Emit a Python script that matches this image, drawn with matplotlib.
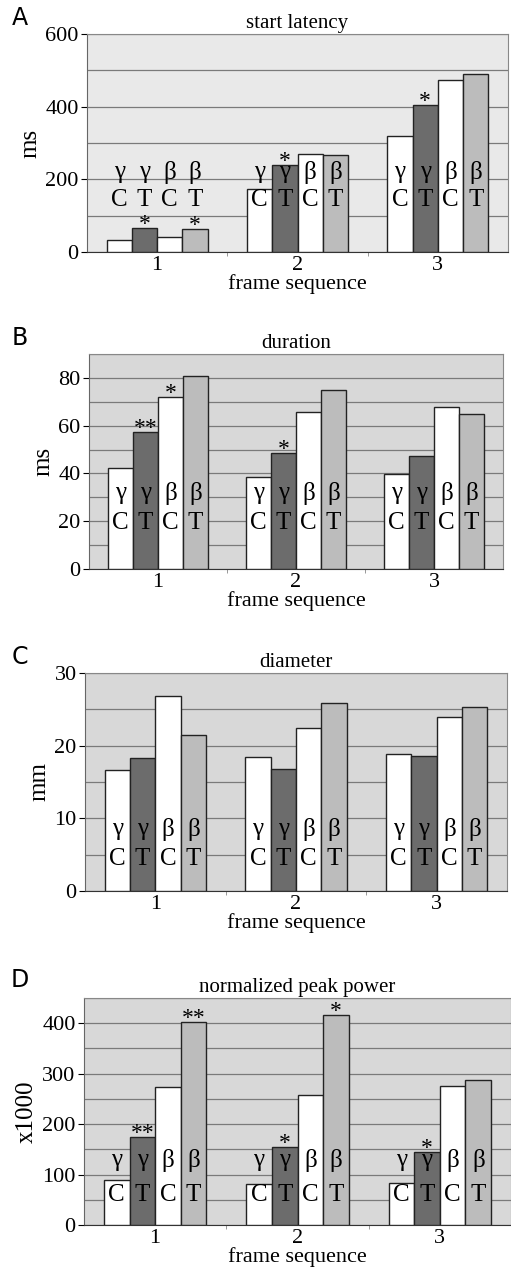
import numpy as np
import matplotlib
matplotlib.use("Agg")
import matplotlib.pyplot as plt

plt.rcParams['font.family'] = ['Liberation Serif', 'DejaVu Serif']

# data, order per group: gamma C, gamma T, beta C, beta T
groups = ['1', '2', '3']
bands = ['γ', 'γ', 'β', 'β']
conds = ['C', 'T', 'C', 'T']

latency = [[32, 65, 40, 64], [174, 240, 271, 268], [318, 405, 473, 489]]
duration = [[42.1, 57.5, 71.9, 80.7], [38.7, 48.4, 65.9, 74.8], [39.7, 47.1, 67.8, 64.9]]
diameter = [[16.6, 18.3, 26.8, 21.4], [18.5, 16.8, 22.4, 25.9], [18.9, 18.6, 24.0, 25.3]]
power = [[89, 174, 274, 402], [81, 154, 257, 417], [84, 145, 276, 288]]

stars_lat = [['', '*', '', '*'], ['', '*', '', ''], ['', '*', '', '']]
stars_dur = [['', '**', '*', ''], ['', '*', '', ''], ['', '', '', '']]
stars_dia = [['', '', '', ''], ['', '', '', ''], ['', '', '', '']]
stars_pow = [['', '**', '', '**'], ['', '*', '', '*'], ['', '*', '', '']]

panels = [
    ('A', 'start latency', 'ms', latency, stars_lat, 600, 200, 100, (220, 142), '#e9e9e9'),
    ('B', 'duration', 'ms', duration, stars_dur, 90, 20, 10, (31.7, 19.2), '#d8d8d8'),
    ('C', 'diameter', 'mm', diameter, stars_dia, 30, 10, 5, (8.5, 4.4), '#d8d8d8'),
    ('D', 'normalized peak power', 'x1000', power, stars_pow, 450, 100, 50, (128, 60), '#d8d8d8'),
]

# axes boxes in pixels: left, right, top, bottom
boxes = [(87, 508, 34, 252), (89, 503, 354, 569), (85, 507, 673, 891), (84, 511, 998, 1225)]
letter_y = [18, 338, 657, 980]

W, H = 511, 1273
fig = plt.figure(figsize=(W / 100, H / 100), dpi=100)

colors = ['white', '#6c6c6c', 'white', '#bcbcbc']
bw = 0.18
offs = (np.arange(4) - 1.5) * bw

for (letter, title, ylab, vals, stars, ymax, major, minor, laby, bg), (l, r, t, b), ly in zip(panels, boxes, letter_y):
    ax = fig.add_axes([l / W, 1 - b / H, (r - l) / W, (b - t) / H])
    ax.set_facecolor(bg)
    vals = np.array(vals)
    x = np.arange(len(groups))
    for i in range(4):
        ax.bar(x + offs[i], vals[:, i], width=bw, color=colors[i], edgecolor='#222222',
               linewidth=1.0, zorder=3)
        for g in range(len(groups)):
            ax.text(x[g] + offs[i], laby[0], bands[i], ha='center', va='center',
                    fontsize=18, zorder=4)
            ax.text(x[g] + offs[i], laby[1], conds[i], ha='center', va='center',
                    fontsize=18, zorder=4)
            if stars[g][i]:
                ax.annotate(stars[g][i], (x[g] + offs[i], vals[g, i]), xytext=(0, -5),
                            textcoords='offset points', ha='center', va='bottom',
                            fontsize=17, zorder=4)
    ax.set_xlim(-0.5, 2.5)
    ax.set_ylim(0, ymax)
    ax.set_yticks(np.arange(0, ymax + 1, major))
    ax.set_yticks(np.arange(0, ymax + 1, minor), minor=True)
    ax.grid(axis='y', which='both', color='#7a7a7a', linewidth=0.9, zorder=0)
    ax.set_axisbelow(True)
    ax.set_xticks(x)
    ax.set_xticklabels(groups, fontsize=16)
    ax.set_xticks([0.5, 1.5], minor=True)
    ax.tick_params(axis='x', which='major', length=0, pad=3)
    ax.tick_params(axis='x', which='minor', length=3, direction='out', color='#888888')
    ax.tick_params(axis='y', which='major', labelsize=16, length=4, pad=2)
    ax.tick_params(axis='y', which='minor', length=0)
    for s in ['top', 'right']:
        ax.spines[s].set_color('#888888')
    ax.spines['left'].set_color('#666666')
    ax.spines['bottom'].set_color('#333333')
    ax.set_xlabel('frame sequence', fontsize=16, labelpad=-1)
    ax.set_ylabel(ylab, fontsize=18, labelpad=3)
    ax.set_title(title, fontsize=15, pad=4)
    fig.text(20 / W, 1 - ly / H, letter, fontsize=17, ha='center', va='center',
             family=['DejaVu Sans'])

fig.savefig('out.png', dpi=100, facecolor='white')
